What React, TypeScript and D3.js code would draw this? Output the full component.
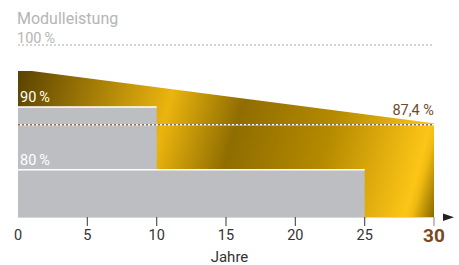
import React from "react";
import * as d3 from "d3";

// guaranteed output curve (year, percent)
const warrantyYears = [0, 1, 30];
const warrantyValues = [95.7, 95.7, 87.4];

// standard guarantee steps
const stepLabels = ["90 %", "80 %"];
const stepValues = [90, 80];
const stepYears = [10, 25];

const xTicks = [0, 5, 10, 15, 20, 25, 30];
const topValue = 100;
const endLabel = "87,4 %";

const width = 459;
const height = 265;

export default function App() {
  const x = d3.scaleLinear().domain([0, 30]).range([18, 434]);
  const y = d3.scaleLinear().domain([72.5, 100]).range([217, 44]);

  const warranty = warrantyYears.map((yr, i) => ({ yr, v: warrantyValues[i] }));
  const area = d3
    .area<{ yr: number; v: number }>()
    .x((d) => x(d.yr))
    .y0(y(72.5))
    .y1((d) => y(d.v));

  const lastV = warrantyValues[warrantyValues.length - 1];
  const font = "Roboto, 'Noto Sans', sans-serif";

  return (
    <svg
      width={width}
      height={height}
      style={{ position: "absolute", left: 0, top: 0 }}
      fontFamily={font}
    >
      <defs>
        <linearGradient
          id="gold"
          gradientUnits="userSpaceOnUse"
          x1={18}
          y1={71}
          x2={442}
          y2={190}
        >
          <stop offset="0" stopColor="#5a4200" />
          <stop offset="0.35" stopColor="#ebb50e" />
          <stop offset="0.51" stopColor="#8f6d00" />
          <stop offset="0.72" stopColor="#b58a00" />
          <stop offset="0.935" stopColor="#fdc517" />
          <stop offset="0.95" stopColor="#f0bb12" />
          <stop offset="1" stopColor="#876600" />
        </linearGradient>
      </defs>

      <text x={17} y={24} fontSize={16} fill="#b5b5b5">
        Modulleistung
      </text>
      <text x={17} y={43} fontSize={14.5} fill="#b5b5b5">
        {topValue}{"\u2009"}%
      </text>
      <line
        x1={x(0)}
        x2={x(30)}
        y1={y(topValue) + 1}
        y2={y(topValue) + 1}
        stroke="#aaaaaa"
        strokeDasharray="2,2"
      />

      <path d={area(warranty) ?? ""} fill="url(#gold)" />

      {stepValues.map((v, i) => (
        <g key={i}>
          <rect
            x={x(0)}
            y={y(v)}
            width={x(stepYears[i]) - x(0)}
            height={y(72.5) - y(v)}
            fill="#bdbec2"
          />
          <line
            x1={x(0)}
            x2={x(stepYears[i])}
            y1={y(v)}
            y2={y(v)}
            stroke="#ffffff"
            strokeWidth={1.5}
          />
          <text x={x(0) + 2} y={y(v) - 5} fontSize={14.5} fill="#ffffff">
            {stepLabels[i].replace(" ", "\u2009")}
          </text>
        </g>
      ))}

      <line
        x1={x(0)}
        x2={x(30)}
        y1={y(lastV) + 1.5}
        y2={y(lastV) + 1.5}
        stroke="#ffffff"
        strokeWidth={1.5}
      />
      <line
        x1={x(0)}
        x2={x(30)}
        y1={y(lastV) + 1.5}
        y2={y(lastV) + 1.5}
        stroke="#8a6c52"
        strokeWidth={1.5}
        strokeDasharray="2,2"
      />
      <text x={x(30)} y={115} fontSize={14.5} fill="#6e4b2c" textAnchor="end">
        {endLabel}
      </text>

      <line x1={x(0)} x2={x(30)} y1={217.5} y2={217.5} stroke="#d6d6d6" />
      {xTicks.map((t) => (
        <g key={t}>
          {t > 0 && (
            <line
              x1={x(t)}
              x2={x(t)}
              y1={217}
              y2={226}
              stroke={t === 30 ? "#9a9a9a" : "#555555"}
              strokeWidth={1.2}
            />
          )}
          <text
            x={x(t)}
            y={t === 30 ? 241.5 : 239.5}
            textAnchor="middle"
            fontSize={t === 30 ? 19 : 14.5}
            fontWeight={t === 30 ? 700 : 400}
            fill={t === 30 ? "#7a4a1e" : "#333333"}
          >
            {t}
          </text>
        </g>
      ))}
      <path d="M443,213.5 L454,217.3 L443,221 Z" fill="#222222" />
      <text x={229.5} y={262} textAnchor="middle" fontSize={15} fill="#333333">
        Jahre
      </text>
    </svg>
  );
}
